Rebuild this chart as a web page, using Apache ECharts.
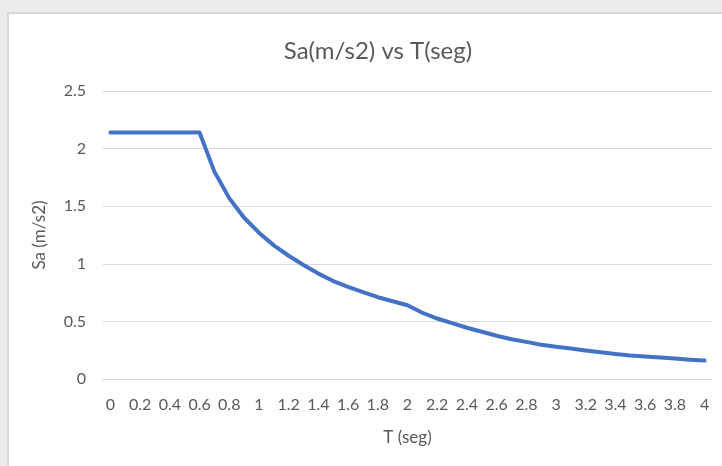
<!DOCTYPE html>
<html>
<head>
<meta charset="utf-8">
<script src="https://cdn.jsdelivr.net/npm/echarts@6/dist/echarts.min.js"></script>
<style>
html,body{margin:0;padding:0;background:#ececec;}
#c{width:722px;height:466px;}
</style>
</head>
<body>
<div id="c"></div>
<script>
var categories = ["0","0.1","0.2","0.3","0.4","0.5","0.6","0.7","0.8","0.9",
  "1","1.1","1.2","1.3","1.4","1.5","1.6","1.7","1.8","1.9",
  "2","2.1","2.2","2.3","2.4","2.5","2.6","2.7","2.8","2.9",
  "3","3.1","3.2","3.3","3.4","3.5","3.6","3.7","3.8","3.9","4"];
var saValues = [2.14,2.14,2.14,2.14,2.14,2.14,2.14,1.80,1.57,1.40,
  1.27,1.16,1.07,0.99,0.915,0.85,0.80,0.755,0.71,0.675,
  0.64,0.575,0.525,0.485,0.445,0.41,0.375,0.345,0.322,0.297,
  0.28,0.265,0.248,0.232,0.217,0.205,0.196,0.186,0.177,0.168,0.16];
var yTicks = {min:0, max:2.5, interval:0.5};
var titleText = "Sa(m/s2) vs T(seg)";
var xName = "T (seg)";
var yName = "Sa (m/s2)";

var font = "Lato, 'Open Sans', sans-serif";
var chart = echarts.init(document.getElementById('c'), null, {renderer:'canvas'});
chart.setOption({
  backgroundColor: '#ececec',
  animation: false,
  graphic: [{
    type: 'rect', z: -10, silent: true,
    shape: {x: 8, y: 13, width: 730, height: 470},
    style: {fill: '#ffffff', stroke: '#d9d9d9', lineWidth: 2}
  }],
  title: {
    text: titleText, left: 373, top: 34, textAlign: 'center',
    textStyle: {fontFamily: font, fontSize: 24, fontWeight: 'normal', color: '#595959'}
  },
  grid: {left: 103, right: 10, top: 91, bottom: 87},
  xAxis: {
    type: 'category', data: categories, boundaryGap: true,
    name: xName, nameLocation: 'middle', nameGap: 50,
    nameTextStyle: {fontFamily: font, fontSize: 17, color: '#595959'},
    axisLine: {lineStyle: {color: '#d9d9d9', width: 1}},
    axisTick: {show: false},
    axisLabel: {interval: 1, margin: 18, fontFamily: font, fontSize: 16, color: '#595959'},
    splitLine: {show: false}
  },
  yAxis: {
    type: 'value', min: yTicks.min, max: yTicks.max, interval: yTicks.interval,
    name: yName, nameLocation: 'middle', nameGap: 55, nameRotate: 90,
    nameTextStyle: {fontFamily: font, fontSize: 17, color: '#595959'},
    axisLine: {show: false}, axisTick: {show: false},
    axisLabel: {margin: 17, fontFamily: font, fontSize: 16, color: '#595959'},
    splitLine: {lineStyle: {color: '#d9d9d9', width: 1}}
  },
  series: [{
    type: 'line', data: saValues, showSymbol: false, smooth: false,
    lineStyle: {color: '#4472c4', width: 4, cap: 'round', join: 'round'},
    itemStyle: {color: '#4472c4'}
  }]
});
</script>
</body>
</html>
